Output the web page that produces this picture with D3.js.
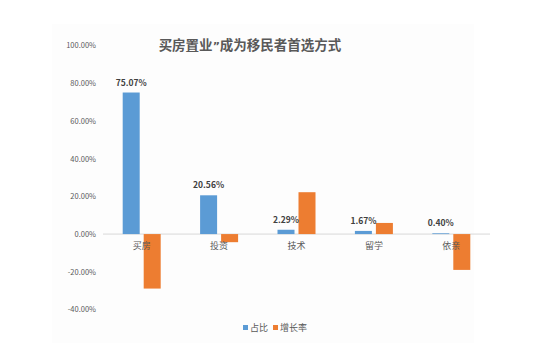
<!DOCTYPE html>
<html><head><meta charset="utf-8">
<script src="https://cdn.jsdelivr.net/npm/d3@7/dist/d3.min.js"></script>
<style>body{margin:0;background:#fff;}svg{display:block;}</style>
</head><body>
<script>
const categories = ["买房","投资","技术","留学","依亲"];
const share = [75.07, 20.56, 2.29, 1.67, 0.40];
const growth = [-28.9, -4.3, 22.2, 5.9, -19.0];
const yTicks = [-40, -20, 0, 20, 40, 60, 80, 100];
const seriesNames = ["占比","增长率"];
const colors = ["#5B9BD5","#ED7D31"];

const W = 539, H = 353;
const svg = d3.select("body").append("svg").attr("width", W).attr("height", H);
const font = "'Noto Sans CJK SC', 'DejaVu Sans', sans-serif";

svg.append("rect").attr("x",52).attr("y",24).attr("width",422).attr("height",319).attr("fill","#fdfdfd");

const x = d3.scaleBand().domain(categories).range([103, 490]);
const y = d3.scaleLinear().domain([-40, 100]).range([309.5, 45.5]);

// y-axis labels
const yAxis = d3.axisLeft(y).tickValues(yTicks).tickSize(0).tickPadding(0)
  .tickFormat(d => d.toFixed(2) + "%");
const gy = svg.append("g").attr("transform","translate(96,0)").call(yAxis);
gy.select(".domain").remove();
gy.selectAll("text").attr("font-family", font).attr("font-size", 7.5).attr("fill","#595959");

// zero line
svg.append("line").attr("x1",103).attr("x2",490).attr("y1",y(0)).attr("y2",y(0))
  .attr("stroke","#d9d9d9").attr("stroke-width",1);

const bw = 17, gap = 4;
const sub = [ -bw - gap/2, gap/2 ];
[share, growth].forEach((vals, si) => {
  svg.append("g").selectAll("rect").data(vals).join("rect")
    .attr("x", (d,i) => x(categories[i]) + x.bandwidth()/2 + sub[si])
    .attr("y", d => y(Math.max(0,d)))
    .attr("width", bw)
    .attr("height", d => Math.abs(y(d) - y(0)))
    .attr("fill", colors[si]);
});

// data labels for share
svg.append("g").selectAll("text").data(share).join("text")
  .attr("x", (d,i) => x(categories[i]) + x.bandwidth()/2 + sub[0] + bw/2)
  .attr("y", d => y(d) - 7)
  .attr("text-anchor","middle")
  .attr("font-family", font).attr("font-size", 8.5).attr("font-weight","bold")
  .attr("fill","#404040")
  .text(d => d.toFixed(2) + "%");

// category labels
const xAxis = d3.axisBottom(x).tickSize(0).tickPadding(0);
const gx = svg.append("g").attr("transform",`translate(0,${y(0)+9})`).call(xAxis);
gx.select(".domain").remove();
gx.selectAll("text").attr("font-family", font).attr("font-size", 9).attr("fill","#595959");

// title
const title = svg.append("text").attr("x",250).attr("y",50).attr("text-anchor","middle")
  .attr("font-family", font).attr("font-size", 13.5).attr("font-weight","bold")
  .attr("fill","#595959");
title.append("tspan").text("买房置业");
title.append("tspan").attr("font-family","'DejaVu Sans', sans-serif").attr("font-size",11).text("”");
title.append("tspan").text("成为移民者首选方式");

// legend
const leg = svg.append("g").attr("transform","translate(243,328)");
let lx = 0;
seriesNames.forEach((n, i) => {
  leg.append("rect").attr("x", lx).attr("y", -3).attr("width",5).attr("height",5).attr("fill", colors[i]);
  const t = leg.append("text").attr("x", lx + 7).attr("y", 3)
    .attr("font-family", font).attr("font-size", 9).attr("fill","#595959").text(n);
  lx += 7 + t.node().getComputedTextLength() + 5;
});
</script>
</body></html>
